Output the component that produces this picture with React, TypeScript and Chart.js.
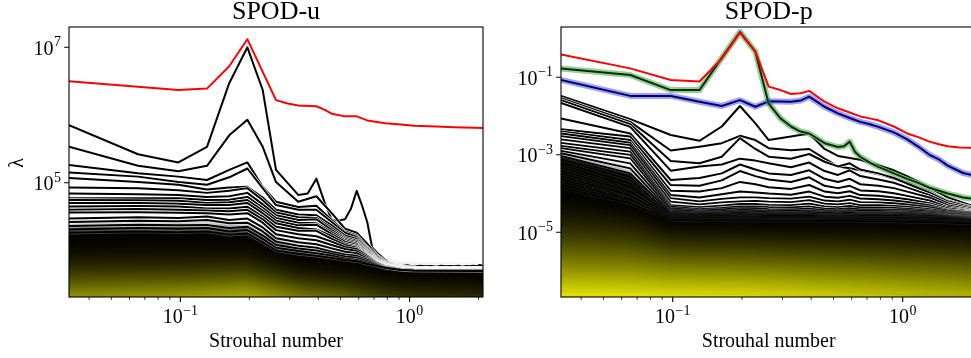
import React, { useEffect, useRef } from "react";
import { Chart, registerables } from "chart.js";

Chart.register(...registerables);

// ---------- axes ----------
const DF = 0.03268; // Strouhal-number resolution (frequency bin)
const X_MIN = 0.03268;
const X_MAX = 2.0915;
const X_MAJOR = [0.1, 1];
const X_MAJOR_EXP = ["\u22121", "0"];
const X_MINOR = [0.04, 0.05, 0.06, 0.07, 0.08, 0.09, 0.2, 0.3, 0.4, 0.5, 0.6, 0.7, 0.8, 0.9, 2];

const U_Y_MIN_LOG = 3.312;
const U_Y_MAX_LOG = 7.3;
const U_Y_TICKS = [1e5, 1e7];
const U_Y_EXP = ["5", "7"];

const P_Y_MIN_LOG = -6.67;
const P_Y_MAX_LOG = 0.298;
const P_Y_TICKS = [1e-5, 1e-3, 1e-1];
const P_Y_EXP = ["\u22125", "\u22123", "\u22121"];

// ---------- SPOD-u data (log10 of lambda) ----------
const uRedGrid = [1, 3, 4, 5, 6, 8, 9, 10, 12, 13, 14, 16, 18, 20, 24, 28, 32, 40, 48, 64];
const uRed = [6.5, 6.37, 6.39, 6.72, 7.12, 6.22, 6.17, 6.14, 6.13, 6.08, 6.02, 5.98, 5.98, 5.92, 5.88, 5.86, 5.84, 5.83, 5.82, 5.81];

const uMode1Grid = [1, 2, 3, 4, 5, 6, 7, 8, 10, 11, 12, 13, 14, 15, 16, 17, 18, 19, 20, 21, 22, 24, 26, 28, 30, 32, 34, 36, 38, 40, 42, 44, 46, 48, 50, 52, 54, 56, 58, 60, 62, 64];
const uMode1 = [5.85, 5.42, 5.3, 5.53, 6.47, 7.0, 6.37, 5.19, 4.82, 4.84, 5.06, 4.72, 4.45, 4.44, 4.46, 4.62, 4.88, 4.66, 4.42, 4.05, 3.97, 3.86, 3.78, 3.765, 3.78, 3.76, 3.775, 3.765, 3.77, 3.76, 3.775, 3.765, 3.77, 3.765, 3.775, 3.76, 3.77, 3.765, 3.775, 3.765, 3.785, 3.77];

const uGrid = [1, 2, 3, 4, 5, 6, 7, 8, 10, 12, 14, 16, 18, 20, 22, 24, 28, 32, 64];
const uMode2 = [5.53, 5.25, 5.17, 5.25, 5.7, 5.93, 5.53, 5.01, 4.72, 4.8, 4.55, 4.32, 4.26, 4.1, 3.93, 3.84, 3.765, 3.75, 3.745];
const uMode3 = [5.26, 5.14, 5.09, 5.04, 5.19, 5.3, 4.94, 4.72, 4.64, 4.66, 4.45, 4.28, 4.22, 4.05, 3.92, 3.83, 3.76, 3.745, 3.74];
const uMode4 = [5.15, 5.09, 5.01, 4.97, 5.08, 5.21, 4.92, 4.67, 4.6, 4.6, 4.42, 4.26, 4.2, 4.03, 3.9, 3.82, 3.755, 3.74, 3.735];
const uMode5 = [5.07, 5.01, 4.97, 4.9, 4.93, 4.94, 4.78, 4.6, 4.53, 4.52, 4.37, 4.22, 4.17, 4.01, 3.88, 3.81, 3.75, 3.735, 3.73];
const uMode6 = [4.93, 4.92, 4.89, 4.85, 4.88, 4.92, 4.74, 4.56, 4.49, 4.48, 4.33, 4.19, 4.14, 3.99, 3.87, 3.8, 3.75, 3.73, 3.725];
const uMode7 = [4.84, 4.83, 4.82, 4.79, 4.8, 4.85, 4.68, 4.52, 4.45, 4.46, 4.3, 4.17, 4.12, 3.98, 3.86, 3.795, 3.745, 3.73, 3.72];
const uMode8 = [4.77, 4.77, 4.77, 4.745, 4.75, 4.79, 4.63, 4.48, 4.41, 4.4, 4.27, 4.15, 4.1, 3.96, 3.85, 3.79, 3.74, 3.725, 3.72];
const uMode9 = [4.745, 4.74, 4.735, 4.7, 4.71, 4.745, 4.59, 4.44, 4.37, 4.38, 4.24, 4.13, 4.08, 3.95, 3.84, 3.785, 3.74, 3.725, 3.72];
const uMode10 = [4.7, 4.7, 4.69, 4.67, 4.67, 4.7, 4.55, 4.4, 4.33, 4.31, 4.21, 4.1, 4.06, 3.94, 3.835, 3.78, 3.735, 3.72, 3.715];
const uMode11 = [4.65, 4.655, 4.65, 4.62, 4.62, 4.645, 4.5, 4.35, 4.29, 4.29, 4.17, 4.08, 4.04, 3.93, 3.83, 3.775, 3.735, 3.72, 3.715];
const uMode12 = [4.6, 4.61, 4.6, 4.59, 4.58, 4.6, 4.46, 4.3, 4.24, 4.21, 4.13, 4.05, 4.02, 3.92, 3.825, 3.77, 3.73, 3.72, 3.715];
const uMode13 = [4.56, 4.565, 4.555, 4.55, 4.53, 4.55, 4.41, 4.24, 4.18, 4.15, 4.08, 4.02, 3.99, 3.9, 3.82, 3.765, 3.73, 3.715, 3.71];
const uMode14 = [4.47, 4.49, 4.48, 4.5, 4.45, 4.47, 4.34, 4.18, 4.12, 4.09, 4.03, 3.98, 3.96, 3.88, 3.81, 3.76, 3.725, 3.715, 3.71];
const uMode15 = [4.42, 4.44, 4.43, 4.45, 4.4, 4.41, 4.28, 4.13, 4.07, 4.04, 3.98, 3.94, 3.92, 3.86, 3.8, 3.755, 3.72, 3.71, 3.705];
const uMode16 = [4.36, 4.38, 4.37, 4.375, 4.33, 4.35, 4.22, 4.08, 4.03, 4.0, 3.95, 3.91, 3.89, 3.84, 3.79, 3.75, 3.72, 3.71, 3.705];
const uMode17 = [4.31, 4.33, 4.32, 4.33, 4.28, 4.3, 4.17, 4.04, 3.99, 3.96, 3.92, 3.88, 3.86, 3.82, 3.78, 3.745, 3.715, 3.705, 3.7];
const uMode18 = [4.26, 4.28, 4.27, 4.28, 4.23, 4.25, 4.12, 4.0, 3.95, 3.92, 3.89, 3.86, 3.84, 3.8, 3.77, 3.74, 3.71, 3.7, 3.695];

// higher (colormapped) modes, drawn as stacked bands
const uBandGrid = [1, 3, 6, 10, 16, 24, 32, 64];
const uBandShade = [0.02, 0.05, 0.09, 0.14, 0.2, 0.27, 0.34, 0.42, 0.5, 0.58, 0.66];
const uBand1 = [4.34, 4.35, 4.33, 4.01, 3.89, 3.74, 3.7, 3.69];
const uBand2 = [4.05, 4.07, 4.06, 3.81, 3.73, 3.63, 3.59, 3.57];
const uBand3 = [3.94, 3.96, 3.96, 3.74, 3.66, 3.56, 3.52, 3.49];
const uBand4 = [3.84, 3.86, 3.87, 3.67, 3.59, 3.49, 3.45, 3.41];
const uBand5 = [3.75, 3.77, 3.79, 3.6, 3.52, 3.42, 3.38, 3.34];
const uBand6 = [3.66, 3.69, 3.71, 3.54, 3.46, 3.36, 3.31, 3.27];
const uBand7 = [3.58, 3.61, 3.64, 3.48, 3.4, 3.3, 3.25, 3.2];
const uBand8 = [3.5, 3.53, 3.57, 3.42, 3.34, 3.24, 3.18, 3.13];
const uBand9 = [3.43, 3.46, 3.5, 3.36, 3.28, 3.17, 3.11, 3.06];
const uBand10 = [3.36, 3.39, 3.43, 3.3, 3.22, 3.1, 3.04, 2.99];
const uBand11 = [3.3, 3.33, 3.37, 3.24, 3.16, 3.03, 2.97, 2.92];

// ---------- SPOD-p data (log10 of lambda) ----------
const pRedGrid = [1, 2, 3, 4, 5, 6, 7, 8, 9, 10, 11, 12, 13, 14, 16, 18, 20, 22, 24, 28, 32, 36, 40, 44, 48, 54, 60, 64];
const pRed = [-0.41, -0.77, -1.07, -1.11, -0.52, 0.15, -0.34, -1.24, -1.33, -1.43, -1.41, -1.35, -1.5, -1.63, -1.8, -1.91, -2.01, -2.06, -2.11, -2.27, -2.45, -2.55, -2.66, -2.73, -2.78, -2.81, -2.82, -2.82];

const pGreenGrid = [1, 2, 3, 4, 5, 6, 7, 8, 9, 10, 11, 12, 14, 16, 17, 18, 19, 20, 22, 24, 28, 32, 36, 40, 48, 56, 64];
const pGreen = [-0.77, -0.94, -1.33, -1.33, -0.5, 0.17, -0.34, -1.68, -2.06, -2.27, -2.4, -2.45, -2.7, -2.8, -2.78, -2.66, -2.93, -3.05, -3.2, -3.31, -3.48, -3.62, -3.73, -3.85, -4.0, -4.1, -4.15];

const pBlueGrid = [1, 2, 3, 4, 5, 6, 7, 8, 10, 11, 12, 14, 16, 18, 20, 22, 24, 28, 32, 36, 40, 44, 48, 56, 64];
const pBlue = [-1.07, -1.48, -1.48, -1.63, -1.74, -1.59, -1.76, -1.62, -1.63, -1.6, -1.5, -1.76, -1.93, -2.05, -2.15, -2.21, -2.28, -2.42, -2.6, -2.8, -3.0, -3.12, -3.28, -3.47, -3.55];

const pGrid = [1, 2, 3, 4, 5, 6, 7, 8, 10, 12, 14, 16, 18, 20, 24, 28, 32, 40, 48, 64];
const pMode1 = [-1.48, -2.08, -2.49, -2.64, -2.27, -1.74, -2.19, -2.62, -2.53, -2.45, -2.85, -3.03, -3.08, -3.13, -3.27, -3.4, -3.55, -3.85, -4.1, -4.35];
const pMode2 = [-1.54, -2.15, -2.89, -2.79, -2.7, -2.51, -2.62, -2.83, -2.88, -2.85, -3.1, -3.3, -3.35, -3.4, -3.5, -3.62, -3.72, -3.95, -4.18, -4.38];
const pMode3 = [-1.59, -2.21, -3.16, -3.22, -3.05, -2.57, -2.85, -3.05, -3.1, -2.98, -3.18, -3.3, -3.22, -3.38, -3.48, -3.6, -3.74, -3.98, -4.2, -4.4];
const pMode4 = [-1.66, -2.28, -3.41, -3.3, -3.25, -3.1, -3.15, -3.22, -3.32, -3.2, -3.42, -3.52, -3.4, -3.55, -3.64, -3.72, -3.84, -4.04, -4.25, -4.42];
const pMode5 = [-2.06, -2.45, -3.65, -3.6, -3.48, -3.25, -3.38, -3.48, -3.52, -3.4, -3.62, -3.7, -3.62, -3.76, -3.8, -3.86, -3.95, -4.1, -4.3, -4.45];
const pMode6 = [-2.34, -2.53, -3.78, -3.8, -3.66, -3.42, -3.55, -3.64, -3.7, -3.58, -3.8, -3.86, -3.8, -3.92, -3.94, -3.99, -4.06, -4.18, -4.35, -4.47];
const pMode7 = [-2.4, -2.62, -3.93, -3.95, -3.86, -3.7, -3.76, -3.84, -3.88, -3.78, -3.95, -3.99, -3.94, -4.04, -4.06, -4.1, -4.15, -4.25, -4.38, -4.48];
const pMode8 = [-2.45, -2.69, -4.04, -4.1, -4.02, -3.95, -3.97, -4.0, -4.03, -3.95, -4.08, -4.11, -4.06, -4.13, -4.15, -4.18, -4.22, -4.3, -4.42, -4.5];
const pMode9 = [-2.52, -2.75, -4.12, -4.2, -4.14, -4.1, -4.1, -4.12, -4.13, -4.08, -4.18, -4.2, -4.16, -4.22, -4.23, -4.25, -4.28, -4.35, -4.44, -4.52];
const pMode10 = [-2.6, -2.83, -4.21, -4.28, -4.23, -4.2, -4.19, -4.21, -4.22, -4.17, -4.26, -4.28, -4.25, -4.3, -4.3, -4.32, -4.34, -4.4, -4.47, -4.54];
const pMode11 = [-2.69, -2.92, -4.3, -4.35, -4.31, -4.27, -4.27, -4.29, -4.3, -4.26, -4.33, -4.35, -4.32, -4.36, -4.36, -4.37, -4.39, -4.44, -4.5, -4.56];
const pMode12 = [-2.77, -3.0, -4.34, -4.4, -4.37, -4.33, -4.33, -4.35, -4.36, -4.33, -4.39, -4.4, -4.38, -4.41, -4.41, -4.42, -4.43, -4.47, -4.52, -4.58];
const pMode13 = [-2.83, -3.09, -4.38, -4.44, -4.41, -4.38, -4.38, -4.4, -4.41, -4.39, -4.43, -4.44, -4.43, -4.45, -4.45, -4.46, -4.47, -4.5, -4.55, -4.6];
const pMode14 = [-2.9, -3.22, -4.42, -4.47, -4.45, -4.42, -4.43, -4.44, -4.45, -4.44, -4.47, -4.48, -4.47, -4.49, -4.49, -4.49, -4.5, -4.53, -4.57, -4.62];
const pMode15 = [-2.96, -3.35, -4.47, -4.5, -4.49, -4.46, -4.47, -4.48, -4.49, -4.48, -4.5, -4.51, -4.5, -4.52, -4.52, -4.52, -4.53, -4.56, -4.59, -4.64];
const pMode16 = [-3.03, -3.48, -4.5, -4.53, -4.52, -4.5, -4.51, -4.52, -4.52, -4.52, -4.54, -4.54, -4.54, -4.55, -4.55, -4.55, -4.56, -4.58, -4.61, -4.66];
const pMode17 = [-3.12, -3.65, -4.53, -4.56, -4.55, -4.54, -4.54, -4.55, -4.55, -4.55, -4.57, -4.57, -4.57, -4.58, -4.58, -4.58, -4.59, -4.61, -4.63, -4.68];
const pMode18 = [-3.26, -3.82, -4.56, -4.59, -4.58, -4.57, -4.57, -4.58, -4.58, -4.58, -4.6, -4.6, -4.6, -4.61, -4.61, -4.61, -4.62, -4.63, -4.65, -4.7];
const pMode19 = [-3.4, -3.95, -4.59, -4.61, -4.61, -4.6, -4.6, -4.61, -4.61, -4.61, -4.62, -4.62, -4.62, -4.63, -4.63, -4.63, -4.64, -4.65, -4.67, -4.72];
const pMode20 = [-3.55, -4.05, -4.62, -4.64, -4.63, -4.63, -4.63, -4.64, -4.64, -4.64, -4.65, -4.65, -4.65, -4.66, -4.66, -4.66, -4.67, -4.68, -4.7, -4.74];
const pMode21 = [-3.7, -4.15, -4.65, -4.67, -4.66, -4.66, -4.66, -4.67, -4.67, -4.67, -4.68, -4.68, -4.68, -4.69, -4.69, -4.69, -4.7, -4.71, -4.72, -4.76];
const pMode22 = [-3.85, -4.25, -4.68, -4.7, -4.69, -4.69, -4.69, -4.7, -4.7, -4.7, -4.71, -4.71, -4.71, -4.72, -4.72, -4.72, -4.73, -4.74, -4.75, -4.78];

const pBandGrid = [1, 2, 3, 6, 10, 16, 24, 32, 64];
const pBandShade = [0.02, 0.06, 0.12, 0.2, 0.3, 0.4, 0.5, 0.6, 0.7, 0.8, 0.9];
const pBand1 = [-3.05, -3.5, -4.51, -4.52, -4.53, -4.55, -4.56, -4.57, -4.67];
const pBand2 = [-4.25, -4.5, -4.86, -4.88, -4.9, -4.91, -4.92, -4.94, -4.98];
const pBand3 = [-4.55, -4.72, -5.02, -5.04, -5.07, -5.09, -5.11, -5.13, -5.18];
const pBand4 = [-4.85, -4.97, -5.21, -5.24, -5.27, -5.29, -5.32, -5.34, -5.4];
const pBand5 = [-5.15, -5.24, -5.43, -5.46, -5.49, -5.52, -5.55, -5.58, -5.64];
const pBand6 = [-5.42, -5.49, -5.64, -5.67, -5.7, -5.74, -5.77, -5.8, -5.87];
const pBand7 = [-5.68, -5.73, -5.84, -5.87, -5.91, -5.95, -5.99, -6.02, -6.1];
const pBand8 = [-5.92, -5.96, -6.04, -6.07, -6.11, -6.16, -6.2, -6.24, -6.32];
const pBand9 = [-6.14, -6.17, -6.23, -6.26, -6.3, -6.35, -6.4, -6.44, -6.53];
const pBand10 = [-6.35, -6.37, -6.41, -6.44, -6.48, -6.54, -6.59, -6.64, -6.73];
const pBand11 = [-6.55, -6.56, -6.59, -6.62, -6.66, -6.72, -6.78, -6.84, -6.93];

// ---------- helpers ----------
const SERIF = '"Liberation Serif", "DejaVu Serif", serif';

const toPoints = (grid: number[], logs: number[]) =>
  grid.map((k, i) => ({ x: k * DF, y: Math.pow(10, logs[i]) }));

const shade = (t: number) => {
  const v = Math.round(255 * t);
  return `rgb(${v},${v},0)`;
};

const lineDs = (data: any[], color: string, width: number, outline = 0) => ({
  data,
  borderColor: color,
  backgroundColor: color,
  borderWidth: width,
  pointRadius: 0,
  pointHoverRadius: 0,
  fill: false,
  tension: 0,
  borderJoinStyle: "round",
  clip: 0,
  outline,
});

const bandDs = (data: any[], t: number, blurAfter = false) => ({
  data,
  borderWidth: 0,
  borderColor: "rgba(0,0,0,0)",
  backgroundColor: shade(t),
  pointRadius: 0,
  pointHoverRadius: 0,
  fill: "start",
  tension: 0,
  clip: 0,
  blurAfter,
});

// white edge under black mode lines; soften the stacked colour bands
const outlinePlugin = {
  id: "outline",
  beforeDatasetDraw(chart: any, args: any) {
    const ds = chart.data.datasets[args.index];
    if (!ds || !ds.outline) return;
    const pts = args.meta.data;
    const { ctx, chartArea: a } = chart;
    ctx.save();
    ctx.beginPath();
    ctx.rect(a.left, a.top, a.right - a.left, a.bottom - a.top);
    ctx.clip();
    ctx.beginPath();
    pts.forEach((p: any, i: number) => (i ? ctx.lineTo(p.x, p.y) : ctx.moveTo(p.x, p.y)));
    ctx.strokeStyle = `rgba(255,255,255,${ds.outline})`;
    ctx.lineWidth = ds.borderWidth + 1.3;
    ctx.lineJoin = "round";
    ctx.stroke();
    ctx.restore();
  },
  afterDatasetDraw(chart: any, args: any) {
    const ds = chart.data.datasets[args.index];
    if (!ds || !ds.blurAfter) return;
    const { ctx, chartArea: a, canvas } = chart;
    ctx.save();
    ctx.beginPath();
    ctx.rect(a.left, a.top, a.right - a.left, a.bottom - a.top);
    ctx.clip();
    ctx.filter = "blur(5px)";
    ctx.drawImage(canvas, 0, 0);
    ctx.restore();
  },
};

function drawPow(ctx: CanvasRenderingContext2D, exp: string, x: number, base: number, align: "center" | "right") {
  ctx.font = `20px ${SERIF}`;
  const w1 = ctx.measureText("10").width;
  ctx.font = `14px ${SERIF}`;
  const w2 = ctx.measureText(exp).width;
  const total = w1 + 0.5 + w2;
  const x0 = align === "center" ? x - total / 2 : x - total;
  ctx.textAlign = "left";
  ctx.textBaseline = "alphabetic";
  ctx.font = `20px ${SERIF}`;
  ctx.fillText("10", x0, base);
  ctx.font = `14px ${SERIF}`;
  ctx.fillText(exp, x0 + w1 + 0.5, base - 8.5);
}

const decoPlugin = {
  id: "deco",
  afterDraw(chart: any, _args: any, opts: any) {
    const { ctx, chartArea: a, scales } = chart;
    const xs = scales.x;
    const ys = scales.y;
    ctx.save();
    ctx.fillStyle = "#000";
    ctx.strokeStyle = "#000";
    ctx.lineWidth = 1.1;
    ctx.strokeRect(a.left, a.top, a.right - a.left, a.bottom - a.top);
    ctx.beginPath();
    X_MAJOR.forEach((v) => {
      const px = xs.getPixelForValue(v);
      ctx.moveTo(px, a.bottom);
      ctx.lineTo(px, a.bottom + 4.9);
    });
    (opts.yTicks as number[]).forEach((v) => {
      const py = ys.getPixelForValue(v);
      ctx.moveTo(a.left, py);
      ctx.lineTo(a.left - 4.9, py);
    });
    ctx.stroke();
    ctx.lineWidth = 0.8;
    ctx.beginPath();
    X_MINOR.forEach((v) => {
      const px = xs.getPixelForValue(v);
      ctx.moveTo(px, a.bottom);
      ctx.lineTo(px, a.bottom + 2.8);
    });
    ctx.stroke();
    X_MAJOR.forEach((v, i) => drawPow(ctx, X_MAJOR_EXP[i], xs.getPixelForValue(v), a.bottom + 26.3, "center"));
    (opts.yTicks as number[]).forEach((v, i) =>
      drawPow(ctx, opts.yExp[i], a.left - 8, ys.getPixelForValue(v) + 7.5, "right")
    );
    ctx.textAlign = "center";
    ctx.textBaseline = "alphabetic";
    ctx.font = `26px ${SERIF}`;
    ctx.fillText(opts.title, (a.left + a.right) / 2, 18.5);
    ctx.font = `20px ${SERIF}`;
    ctx.fillText("Strouhal number", (a.left + a.right) / 2, 346.5);
    if (opts.ylabel) {
      ctx.save();
      ctx.translate(18, 163);
      ctx.rotate(-Math.PI / 2);
      ctx.textBaseline = "middle";
      ctx.fillText(opts.ylabel, 0, 0);
      ctx.restore();
    }
    ctx.restore();
  },
};

function withOrder(list: any[]) {
  return list.map((d, i) => ({ ...d, order: -i }));
}

function makeConfig(panel: "u" | "p"): any {
  let datasets: any[] = [];
  if (panel === "u") {
    const bands = [uBand1, uBand2, uBand3, uBand4, uBand5, uBand6, uBand7, uBand8, uBand9, uBand10, uBand11];
    bands.forEach((b, i) =>
      datasets.push(bandDs(toPoints(uBandGrid, b), uBandShade[i], i === bands.length - 1))
    );
    datasets.push(lineDs(toPoints(uMode1Grid, uMode1), "#000", 2, 1));
    const fam = [uMode2, uMode3, uMode4, uMode5, uMode6, uMode7, uMode8, uMode9, uMode10, uMode11, uMode12, uMode13, uMode14, uMode15, uMode16, uMode17, uMode18];
    fam.forEach((m, i) =>
      datasets.push(lineDs(toPoints(uGrid, m), "#000", 2, i < 11 ? 1 : Math.max(0.3, 0.85 - (i - 11) * 0.11)))
    );
    datasets.push(lineDs(toPoints(uRedGrid, uRed), "#ff0000", 2));
  } else {
    const bands = [pBand1, pBand2, pBand3, pBand4, pBand5, pBand6, pBand7, pBand8, pBand9, pBand10, pBand11];
    bands.forEach((b, i) =>
      datasets.push(bandDs(toPoints(pBandGrid, b), pBandShade[i], i === bands.length - 1))
    );
    const fam = [pMode1, pMode2, pMode3, pMode4, pMode5, pMode6, pMode7, pMode8, pMode9, pMode10, pMode11, pMode12, pMode13, pMode14, pMode15, pMode16, pMode17, pMode18, pMode19, pMode20, pMode21, pMode22];
    fam.forEach((m, i) =>
      datasets.push(
        lineDs(toPoints(pGrid, m), "#000", i < 8 ? 2 : 1.8, i < 8 ? 1 : Math.max(0.1, 0.55 - (i - 8) * 0.05))
      )
    );
    datasets.push(lineDs(toPoints(pBlueGrid, pBlue), "#000", 2, 1));
    datasets.push(lineDs(toPoints(pGreenGrid, pGreen), "#000", 2, 1));
    datasets.push(lineDs(toPoints(pBlueGrid, pBlue), "rgba(0,0,255,0.38)", 6));
    datasets.push(lineDs(toPoints(pGreenGrid, pGreen), "rgba(0,128,0,0.4)", 6));
    datasets.push(lineDs(toPoints(pRedGrid, pRed), "#ff0000", 2));
  }
  datasets = withOrder(datasets);
  const isU = panel === "u";
  return {
    type: "line",
    data: { datasets },
    options: {
      responsive: false,
      animation: false,
      devicePixelRatio: 1,
      events: [],
      layout: {
        padding: isU ? { left: 69, right: 7, top: 27, bottom: 61 } : { left: 71, right: 13.6, top: 27, bottom: 61 },
      },
      scales: {
        x: { type: "logarithmic", min: X_MIN, max: X_MAX, display: false },
        y: {
          type: "logarithmic",
          min: Math.pow(10, isU ? U_Y_MIN_LOG : P_Y_MIN_LOG),
          max: Math.pow(10, isU ? U_Y_MAX_LOG : P_Y_MAX_LOG),
          display: false,
        },
      },
      plugins: {
        legend: { display: false },
        tooltip: { enabled: false },
        filler: { propagate: false },
        deco: isU
          ? { title: "SPOD-u", yTicks: U_Y_TICKS, yExp: U_Y_EXP, ylabel: "\u03bb" }
          : { title: "SPOD-p", yTicks: P_Y_TICKS, yExp: P_Y_EXP, ylabel: "" },
      },
    },
    plugins: [outlinePlugin, decoPlugin],
  };
}

export default function App() {
  const leftRef = useRef<HTMLCanvasElement>(null);
  const rightRef = useRef<HTMLCanvasElement>(null);
  useEffect(() => {
    const c1 = new Chart(leftRef.current as HTMLCanvasElement, makeConfig("u"));
    const c2 = new Chart(rightRef.current as HTMLCanvasElement, makeConfig("p"));
    return () => {
      c1.destroy();
      c2.destroy();
    };
  }, []);
  return (
    <div
      style={{
        position: "fixed",
        left: 0,
        top: 0,
        width: 971,
        height: 358,
        overflow: "hidden",
        background: "#fff",
      }}
    >
      <canvas
        ref={leftRef}
        width={490}
        height={358}
        style={{ position: "absolute", left: 0, top: 0, width: 490, height: 358 }}
      />
      <canvas
        ref={rightRef}
        width={500}
        height={358}
        style={{ position: "absolute", left: 490, top: 0, width: 500, height: 358 }}
      />
    </div>
  );
}
